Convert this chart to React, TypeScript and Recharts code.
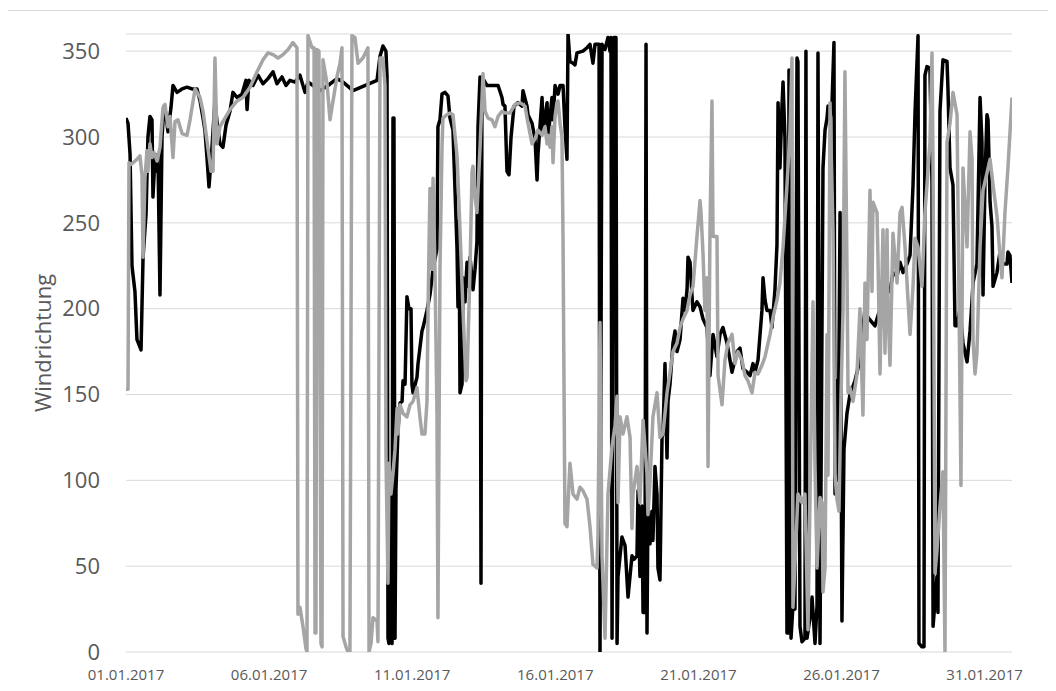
import React from 'react';
import { LineChart, Line, XAxis, YAxis, CartesianGrid, Label } from 'recharts';

// hours since 01.01.2017 00:00
const blackHours = [0,1.7,3.4,5.0,7.5,9.2,10.9,12.6,14.3,16.8,18.4,20.1,21.8,22.6,24.3,26.0,26.8,28.5,30.2,31.9,33.5,35.2,37.7,39.4,42.8,47.0,51.2,55.3,59.5,62.1,64.6,66.2,67.9,69.6,72.1,74.6,76.3,78.8,81.3,83.9,87.2,89.7,93.1,97.3,100.6,101.5,103.1,106.5,110.7,114.9,119.1,123.3,126.6,130.8,134.2,137.5,141.7,145.9,150.1,152.6,156.8,162.7,169.4,176.9,182.0,190.4,210.5,213.0,215.5,218.0,218.9,219.7,220.5,221.4,222.2,223.1,223.9,224.7,225.6,226.4,228.1,229.8,231.5,232.3,234.0,235.6,237.3,239.0,239.8,240.7,244.0,244.9,248.2,249.1,252.4,254.9,257.5,260.8,261.6,263.3,265.0,267.5,270.0,271.7,274.2,277.6,278.4,279.3,280.1,281.8,282.6,284.3,286.0,286.8,288.5,291.0,292.7,294.3,295.2,296.9,297.7,298.5,302.7,307.8,312.0,315.3,316.2,317.8,319.5,321.2,322.9,325.4,328.7,332.1,332.9,336.3,337.1,340.5,343.0,344.7,345.5,348.9,349.7,353.1,353.9,357.2,358.1,359.8,362.3,364.0,366.5,368.1,369.8,370.7,372.3,374.9,376.5,378.2,383.2,386.6,389.1,391.6,393.3,396.7,397.5,399.2,401.7,404.2,405.9,406.7,407.6,409.2,410.9,411.8,412.6,415.9,418.5,421.0,424.3,426.0,428.5,429.4,431.0,432.7,433.6,435.2,436.1,436.9,437.7,439.4,441.1,441.9,443.6,445.3,446.1,447.8,449.5,450.3,452.0,453.7,454.5,456.2,458.7,460.4,462.1,464.6,467.1,468.8,470.5,471.3,473.0,474.6,475.5,478.8,481.4,483.9,487.2,489.7,492.3,495.6,498.1,500.6,504.0,506.5,508.2,512.4,514.9,517.4,520.8,523.3,525.8,527.5,530.0,533.3,534.2,535.9,537.5,540.1,541.7,544.2,545.9,546.8,548.4,550.1,551.0,552.6,554.3,555.2,556.0,557.7,559.3,561.0,562.7,563.5,565.2,566.9,569.4,570.2,571.1,573.6,575.3,577.8,579.5,580.3,582.0,584.5,586.2,587.9,588.7,590.4,592.1,593.7,594.6,596.2,597.1,598.8,600.4,602.1,604.6,607.1,611.3,615.5,619.7,622.2,625.6,628.1,632.3,634.8,638.2,640.7,643.2,646.6,649.1,651.6,654.9,657.5,660.0,661.7,664.2,665.0,667.5,669.2,670.0,671.7,674.2,675.9,676.8,680.1,680.9,682.6,685.1,688.5,689.3,691.0,693.5,695.2,696.9,699.4,701.9,705.3,707.8,709.5,710.3,713.6,716.2,717.8,718.7,720.4,722.0,722.9,724.6,726.2,727.1,730.4,732.9,735.4,738.8,739.6,741.3,743.0];
const blackValues = [311,308,290,225,210,182,179,176,230,255,300,312,310,265,288,280,290,208,300,318,313,303,317,330,326,328,329,328,328,321,311,304,288,271,294,321,309,296,294,307,315,326,323,325,333,316,333,330,336,331,334,338,331,335,330,333,332,336,326,332,330,327,330,334,332,327,333,347,353,350,335,8,5,92,8,5,311,311,8,95,130,145,146,158,156,207,200,200,156,151,160,168,187,189,199,208,223,235,306,310,325,326,324,311,304,235,201,251,151,156,218,204,227,213,230,211,223,239,306,335,40,335,330,330,330,323,319,318,280,278,300,318,320,318,327,318,313,308,299,275,290,323,304,320,299,323,310,330,325,330,330,306,287,360,344,343,342,349,350,352,354,343,354,354,0,354,351,358,350,358,8,358,358,5,44,67,62,32,56,54,56,94,44,85,23,23,354,11,82,63,82,65,108,92,49,42,125,127,168,113,146,156,180,187,175,182,206,199,211,230,227,208,199,204,201,194,189,161,185,172,185,189,180,170,163,175,177,165,163,161,168,163,170,199,218,205,199,199,189,211,237,320,282,318,332,299,11,11,339,8,27,25,346,344,15,6,8,350,8,20,32,5,27,349,5,282,304,311,318,310,320,355,92,158,100,256,18,118,139,150,158,170,200,195,192,190,200,203,213,210,221,219,227,221,226,231,272,315,359,5,3,3,336,341,340,274,15,44,23,315,345,344,328,282,272,190,190,200,180,169,187,205,215,226,323,297,208,277,313,310,262,248,213,221,233,226,226,233,231,215];

const grayHours = [0,1.7,2.5,4.2,5.9,9.2,11.7,13.4,14.3,15.9,17.6,18.4,20.1,21.8,23.5,26.0,28.5,31.0,32.7,35.2,36.9,39.4,41.1,43.6,47.0,51.2,53.7,57.9,62.1,64.6,67.9,71.3,73.0,74.6,76.3,78.8,83.0,87.2,93.1,98.1,104.0,109.9,114.9,119.1,123.3,127.5,131.7,135.9,140.0,143.4,144.2,145.9,148.4,150.9,151.8,152.6,156.0,157.7,158.5,159.3,160.2,161.8,163.5,164.4,165.2,168.6,171.1,173.6,176.9,179.5,181.1,182.0,184.5,186.2,187.8,189.5,192.0,194.6,198.7,202.9,203.8,205.5,207.1,210.5,211.3,213.0,215.5,217.2,218.0,219.7,220.5,222.2,223.9,225.6,227.3,228.1,229.8,232.3,235.6,238.2,240.7,244.0,246.5,248.2,250.7,252.4,253.3,254.9,256.6,257.5,259.1,260.8,261.6,263.3,265.0,265.8,269.2,271.7,274.2,277.6,280.1,282.6,285.1,286.0,288.5,290.2,291.0,292.7,294.3,296.9,299.4,301.1,303.6,306.9,309.4,312.0,315.3,317.8,322.0,326.2,330.4,334.6,337.1,340.5,343.0,345.5,348.9,351.4,353.1,353.9,355.6,357.2,358.1,359.8,361.4,362.3,364.0,365.6,366.5,368.1,369.8,372.3,374.9,378.2,380.7,383.2,386.6,389.1,391.6,395.0,395.8,397.5,399.2,401.7,404.2,407.6,410.1,411.8,412.6,414.3,416.8,420.1,422.7,424.3,425.2,428.5,431.0,433.6,436.9,437.7,439.4,441.9,445.3,447.8,450.3,453.7,456.2,458.7,462.1,464.6,467.1,470.5,473.0,475.5,478.8,481.4,482.2,483.9,485.5,487.2,488.1,489.7,491.4,492.3,495.6,496.5,499.8,502.3,504.8,508.2,510.7,513.2,516.6,519.1,521.6,525.0,527.5,530.0,533.3,535.9,540.1,542.6,545.9,548.4,551.0,554.3,556.8,558.5,559.3,561.0,563.5,566.9,569.4,571.9,573.6,576.1,577.8,579.5,582.0,583.7,584.5,586.2,587.9,588.7,590.4,592.9,594.6,596.2,597.9,599.6,601.3,602.9,604.6,605.5,607.1,609.7,613.0,615.5,618.0,619.7,621.4,623.9,625.6,626.4,629.8,630.6,632.3,634.8,636.5,638.2,639.0,640.7,643.2,646.6,649.1,650.8,653.3,655.8,657.5,660.0,661.7,664.2,667.5,670.0,671.7,674.2,675.9,676.8,678.4,680.1,682.6,685.1,686.8,688.5,691.0,693.5,696.9,700.2,701.9,705.3,707.8,709.5,710.3,712.0,713.6,716.2,718.7,722.0,724.6,727.1,730.4,732.9,734.6,737.1,739.6,743.0];
const grayValues = [153,153,285,284,285,287,289,278,230,276,292,280,296,288,291,286,294,317,319,306,312,288,309,310,302,301,310,328,323,315,298,280,280,346,296,306,311,316,321,323,329,338,345,349,348,346,348,351,355,352,22,26,15,2,0,359,352,352,11,11,351,350,5,3,345,331,310,321,335,343,352,9,3,0,0,359,358,343,346,352,0,5,20,18,6,346,346,330,115,40,110,92,104,118,142,127,144,139,137,144,146,154,137,127,127,146,199,270,223,276,223,139,20,223,294,311,313,314,313,289,246,199,158,160,223,280,283,265,256,294,337,315,311,310,306,312,315,314,314,319,320,318,308,296,299,304,301,306,296,301,294,306,285,312,320,321,308,300,240,75,73,110,92,89,96,94,89,73,51,49,68,192,56,8,92,120,132,149,87,137,127,137,125,72,92,108,87,135,104,80,99,137,151,125,127,151,163,175,180,189,194,199,208,213,242,263,256,232,199,218,108,244,321,242,242,161,144,170,180,185,168,175,170,161,158,151,163,162,167,172,185,195,205,215,236,272,303,346,26,51,92,87,92,13,90,204,108,49,90,87,35,49,185,103,320,246,103,89,82,149,199,338,223,151,154,146,162,200,138,215,182,269,210,262,256,230,162,246,174,246,200,167,244,215,256,259,236,205,185,213,241,236,213,256,272,297,349,282,46,59,85,105,0,297,308,326,313,97,282,236,303,287,182,162,174,236,269,279,287,272,254,231,218,256,282,323];

const xTicks = [0, 120, 240, 360, 480, 600, 720];
const xTickLabels = ['01.01.2017', '06.01.2017', '11.01.2017', '16.01.2017', '21.01.2017', '26.01.2017', '31.01.2017'];
const yTicks = [0, 50, 100, 150, 200, 250, 300, 350];

const FONT = '"Open Sans", "Segoe UI", Arial, sans-serif';

export default function App() {
  const blackData = blackHours.map((h, i) => ({ h, v: blackValues[i] }));
  const grayData = grayHours.map((h, i) => ({ h, v: grayValues[i] }));
  const labelFor = (t: number) => {
    const idx = xTicks.indexOf(t);
    return idx >= 0 ? xTickLabels[idx] : '';
  };
  return (
    <div style={{ position: 'relative', width: 1056, height: 691, margin: -8, overflow: 'hidden', background: '#ffffff' }}>
      <div style={{ position: 'absolute', left: 6, top: 10, width: 1047, height: 700, border: '1px solid #d9d9d9', boxSizing: 'border-box' }} />
      <div style={{ position: 'absolute', left: 0, top: 0 }}>
        <LineChart width={1056} height={691} margin={{ top: 34, right: 44, bottom: 9, left: 0 }}>
          <CartesianGrid vertical={false} stroke="#d9d9d9" strokeWidth={1} />
          <XAxis
            dataKey="h"
            type="number"
            domain={[0, 743]}
            ticks={xTicks}
            interval={0}
            height={30}
            tickFormatter={labelFor}
            axisLine={false}
            tickLine={false}
            tickSize={0}
            tickMargin={17}
            tick={{ fill: '#595959', fontSize: 15, fontFamily: FONT }}
            allowDataOverflow
          />
          <YAxis
            type="number"
            domain={[0, 360]}
            ticks={yTicks}
            width={126}
            axisLine={false}
            tickLine={false}
            tickSize={0}
            tickMargin={26}
            interval={0}
            tick={{ fill: '#595959', fontSize: 22, fontFamily: FONT }}
            allowDataOverflow
          >
            <Label
              value="Windrichtung"
              angle={-90}
              position="insideLeft"
              offset={43}
              style={{ textAnchor: 'middle', fill: '#595959', fontSize: 22, fontFamily: FONT }}
            />
          </YAxis>
          <Line data={blackData} dataKey="v" type="linear" stroke="#000000" strokeWidth={3.5} dot={false} activeDot={false} strokeLinejoin="round" isAnimationActive={false} />
          <Line data={grayData} dataKey="v" type="linear" stroke="#a5a5a5" strokeWidth={3.5} dot={false} activeDot={false} strokeLinejoin="round" isAnimationActive={false} />
        </LineChart>
      </div>
    </div>
  );
}
